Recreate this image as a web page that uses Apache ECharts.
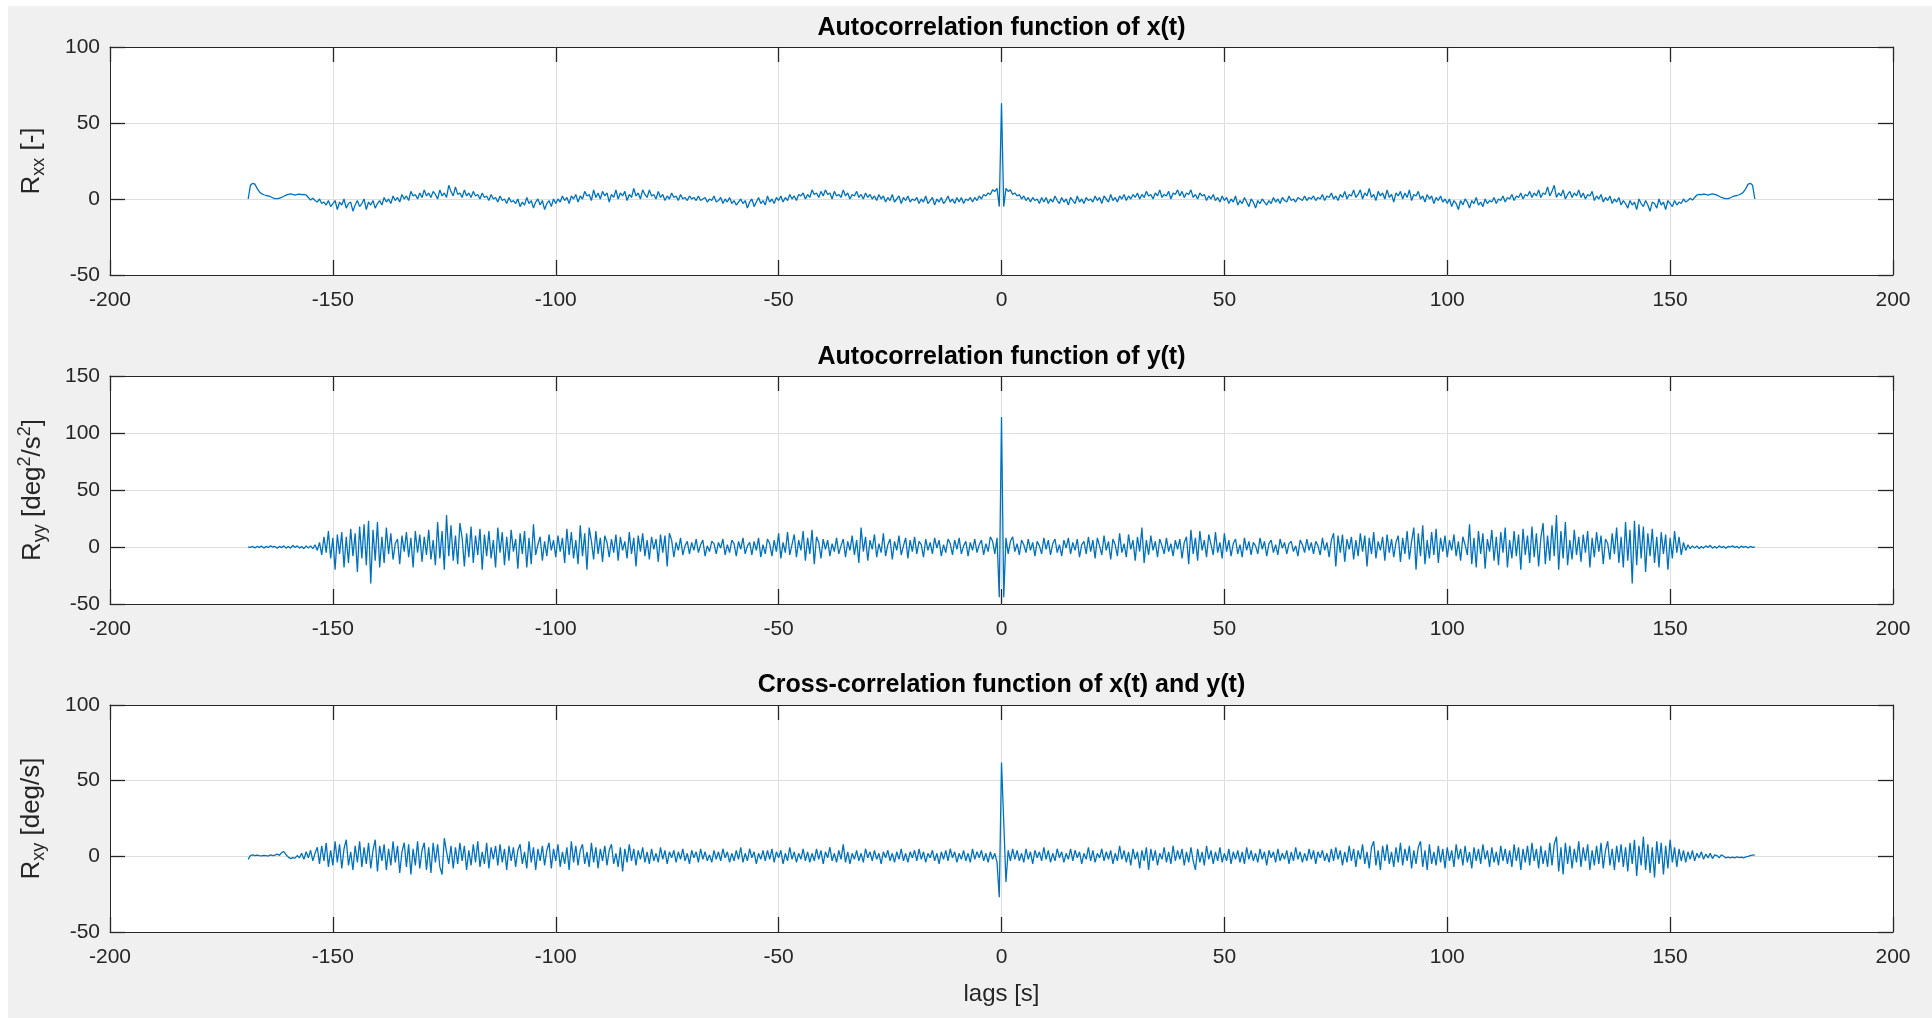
<!DOCTYPE html>
<html>
<head>
<meta charset="utf-8">
<script src="https://cdn.jsdelivr.net/npm/echarts@6/dist/echarts.min.js"></script>
<style>
html,body{margin:0;padding:0;background:#fff;overflow:hidden;}
#c{position:absolute;left:8px;top:6px;width:1924px;height:1012px;}
</style>
</head>
<body>
<div id="c"></div>
<script>
// ---------------- DATA ----------------
const lagStep = 0.5;           // sampling step of the lags [s]
const lagMax = 169;            // lags run from -169 s to +169 s
const xTicks = { min: -200, max: 200, interval: 50 };
const yTicksX = { min: -50, max: 100, interval: 50 };
const yTicksY = { min: -50, max: 150, interval: 50 };
const yTicksXY = { min: -50, max: 100, interval: 50 };

// Rxx for lags 0, 0.5, ..., 169 (autocorrelation is even: R(-t) = R(t))
const rxxPos = [
  63, -5, 7, 5, 6, 3, 4, 2, 3, 0, 2, -1, 1, -2, 1, -1, 0, -3, 1, -2,
  1, -3, 0, -2, 2, -1, -3, 1, -2, 0, -4, 1, -1, -3, 2, -2, 0, -3, 1, -1,
  0, -2, 2, -1, 1, -3, 2, 0, -2, 3, -1, 1, -2, 2, 0, 3, -1, 2, 0, 3,
  1, 4, 0, 3, 1, 5, 2, 3, 0, 4, 2, 6, 1, 3, 2, 5, 0, 4, 3, 6,
  2, 5, 1, 4, 3, 6, 1, 3, 0, 4, 2, 3, -1, 2, 0, 3, -1, 1, -2, 2,
  -1, 1, -3, 0, -2, 2, -4, -1, -3, 1, -2, -5, 0, -2, -6, -1, -3, 0, -2, -4,
  -1, -3, 1, -2, 0, -3, 1, -1, -2, 2, -1, 0, -2, 1, 0, -1, 2, -1, 1, 0,
  2, -1, 1, 0, 3, -1, 2, 1, 4, 0, 2, -1, 3, 1, 5, 0, 3, 2, 6, 1,
  3, 6, 0, 4, 2, 7, 1, 3, -1, 5, 2, 4, 0, 6, 1, 3, -2, 4, 2, 5,
  0, 4, 1, 6, -1, 3, 2, 5, 0, 2, -2, 3, 0, 2, -3, 1, -1, 2, -2, 0,
  -3, 0, -5, -1, -3, -7, -1, -4, 0, -2, -6, -1, -3, 1, -4, -2, -5, 0, -3, -1,
  -2, 1, -3, 0, -1, 2, -2, 1, 0, 3, -1, 2, 1, 4, 0, 3, 2, 5, 1, 4,
  2, 6, 1, 4, 3, 8, 2, 5, 9, 1, 4, 2, 6, 0, 3, 5, 1, 4, 2, 6,
  1, 4, 0, 3, 2, 5, -1, 2, 0, 3, -2, 1, -1, 2, -3, 0, -2, 1, -4, -1,
  -3, -6, -1, -4, -2, -7, 0, -3, -5, -1, -4, -8, -2, -3, -6, 0, -4, -2, -7, -1,
  -3, -5, -1, -4, -2, -3, 0, -2, -1, 0.5, -0.7, 1, 2.6, 3, 2.8, 3.2, 3, 2.6, 3, 3.3,
  3, 2.5, 1.8, 1, 0.5, 0.2, 0.3, 0.8, 1.5, 2, 2.3, 2.8, 3.5, 4.8, 7, 9.8, 10.3, 9, 0
];

// Ryy for lags 0, 0.5, ..., 169 (even function)
const ryyPos = [
  114, -44, 8, -6, 5, 9, -4, 3, -7, 6, 2, -5, 7, -3, 4, -8, 5, 1, -6, 8,
  -2, 6, -7, 3, 7, -5, 2, -8, 6, -1, 8, -6, 4, -3, 7, -9, 2, 5, -6, 9,
  -4, 6, -10, 8, 1, -7, 10, -3, 5, -11, 7, 2, -8, 12, -5, 3, -9, 11, -2, 6,
  -12, 9, -4, 17, -14, 6, -7, 10, -3, 5, -9, 7, 1, -6, 8, -4, 3, -8, 6, -2,
  7, -10, 4, 9, -15, 15, -6, 8, -12, 14, -3, 6, -9, 11, 2, -7, 13, -5, 4, -10,
  12, -4, 6, -8, 3, 7, -6, 2, -9, 8, -3, 5, -7, 4, 1, -6, 8, -2, 5, -8,
  3, 6, -5, 2, -7, 7, -1, 4, -6, 3, 5, -4, 1, -8, 6, 2, -5, 7, -3, 4,
  -6, 5, 1, -7, 8, -3, 4, -9, 6, 12, -17, 10, -5, 11, -13, 7, -2, 9, -11, 6,
  -8, 12, -4, 10, -17, 8, -6, 13, -10, 5, -3, 9, -12, 11, -5, 7, -9, 4, 10, -13,
  8, -6, 14, -11, 5, 17, -20, 12, -8, 19, -15, 6, -10, 13, -7, 16, -14, 8, -4, 10,
  -9, 6, -3, 11, -8, 5, -12, 9, 2, -7, 20, -15, 8, -18, 14, -6, 12, -19, 7, -4,
  15, -12, 9, -16, 13, -5, 17, -18, 6, -10, 14, -8, 11, -20, 16, -7, 10, -14, 18, -9,
  12, -17, 8, 21, -15, 10, -12, 19, -8, 28, -20, 14, -10, 22, -16, 6, -11, 15, -7, 9,
  -13, 11, -5, 14, -18, 8, -9, 13, -4, 10, -15, 7, 3, -11, 12, -6, 17, -14, 9, -18,
  22, -12, 15, -32, 23, -16, 20, -10, 18, -22, 12, -8, 16, -14, 9, -18, 13, -6, 11, -20,
  8, -10, 14, -5, 9, -7, 4, -3, 2, -1.5, 1, -1, 1, -1.5, 0.5, -1, 1, -0.5, 1.5, -1,
  0.5, -1, 1, -0.5, 0.5, -1, 0.5, 0, 1, -0.5, 0.5, -1, 0.8, -0.3, 0.5, -0.8, 0.5, -0.3, 0
];

// Rxy for lags -169, -168.5, ..., 169
const rxy = [
  -2, 0.5, 1, 0.5, 0.8, 0.5, 0.3, 0.6, 0.4, 0.2, 1, 0.5, 0.8, 1.5, 0.6, 2.5, 3.2, 1,
  -0.5, -1.5, -0.8, -1.2, 0.5, -1, 2, -2, 3, -1, 4, -3, 2, 6,
  -5, 7, -3, 9, -7, 4, -6, 10, -4, 8, -8, 5, 11, -6, 3, -9, 7, -4, 10, -7,
  6, -5, 9, -8, 4, 11, -10, 7, -3, 8, -9, 5, -6, 10, -4, 7, -11, 3, 9, -7,
  8, -12, 5, -6, 10, -8, 4, 9, -9, 6, -11, 9, -4, 8, -7, -12, 12, 3, -5, 7,
  -8, 6, -5, 9, -3, 7, -9, 4, -6, 8, -4, 10, -7, 3, -5, 9, -8, 6, -2, 7,
  -6, 8, -4, 5, -9, 7, -3, 6, -7, 4, 8, -5, 3, -8, 10, -4, 6, -9, 5, -3,
  7, -6, 4, 9, -8, 5, -3, 8, -7, 3, -5, 6, -9, 10, -4, 7, -6, 4, 8, -5,
  3, -7, 9, -4, 6, -8, 5, -3, 7, -6, 4, 8, -5, 2, -7, 6, -10, 5, -4, 8,
  -3, 5, -6, 4, -2, 6, -4, 3, -5, 5, -3, 2, -4, 6, -2, 4, -5, 3, -1, 4,
  -4, 3, -2, 5, -3, 2, -5, 4, -1, 3, -4, 5, -2, 3, -3, 1, -4, 4, -2, 3,
  -3, 5, -1, 3, -4, 2, -3, 4, -2, 6, -4, 2, -3, 5, -1, 3, -5, 2, -2, 4,
  -3, 4, -2, 5, -4, 3, -1, 4, -5, 2, -3, 6, -2, 3, -4, 2, -2, 5, -3, 3,
  -4, 2, -3, 5, -2, 4, -5, 3, -1, 6, -3, 2, -4, 4, -2, 8, -4, 3, -5, 2,
  -2, 4, -3, 2, -4, 5, -1, 3, -3, 4, -2, 2, -5, 3, -1, 4, -3, 2, -4, 3,
  -2, 5, -3, 2, -4, 3, -1, 4, -3, 5, -2, 3, -4, 2, -1, 4, -3, 2, -5, 3,
  -2, 4, -3, 5, -1, 3, -4, 2, -2, 4, -3, 2, -4, 5, -2, 3, -1, 4, -3, 2,
  -4, 3, -2, 2, -4, -27, 62,
  23, -17, 4, -3, 5, -2,
  4, -3, 2, -4, 5, -2, 3, -5, 4, -1, 3, -3, 6, -2, 4, -4, 2, -3, 5, -1,
  3, -4, 2, -2, 5, -3, 4, -1, 3, -5, 2, -2, 6, -3, 4, -4, 2, -1, 5, -3,
  3, -2, 4, -5, 2, -3, 7, -2, 4, -4, 3, -6, 5, -2, 3, -8, 4, -3, 6, -9,
  5, -3, 4, -6, 2, -2, 6, -4, 3, -5, 7, -3, 4, -2, 5, -6, 3, -4, 6, -3,
  -9, 5, -4, 3, -6, 7, -2, 4, -5, 3, -3, 6, -4, 2, -3, 5, -5, 3, -2, 4,
  -4, 3, -5, 6, -2, 4, -3, 2, -4, 5, -2, 3, -6, 4, -1, 3, -4, 5, -3, 2,
  -2, 4, -5, 3, -3, 6, -2, 3, -4, 2, -3, 5, -2, 4, -5, 3, -1, 4, -3, 2,
  -4, 5, -3, 6, -2, 4, -6, 3, -4, 7, -3, 5, -7, 4, -2, 8, -5, 3, -8, 6,
  10, -6, 4, -9, 7, -3, 8, -5, 3, -7, 6, -4, 9, -6, 5, -3, 7, -8, 4, -5,
  6, 10, -7, 4, -9, 8, -5, 3, -6, 7, -4, 5, -8, 6, -3, 4, -7, 8, -2, 5,
  -6, 7, -4, 3, -8, 6, -3, 5, -5, 8, -2, 4, -7, 6, -4, 3, -6, 7, -3, 5,
  -5, 4, -7, 8, -3, 6, -9, 5, -4, 7, -6, 9, -3, 5, -8, 7, -5, 4, -7, 9,
  -6, 8, 13, -10, 6, -12, 9, -5, 7, -8, 5, -4, 10, -7, 6, -3, 8, -9, 4, -6,
  7, -5, 9, -8, 4, 10, -6, 5, -9, 7, -4, 8, -7, 6, -10, 9, -5, 11, -13, 7,
  -6, 13, -9, 8, -11, 6, -14, 10, -5, 9, -12, 7, -8, 11, -4, 6, -7, 5, -3, 4,
  -4, 3, -2, 4, -3, 2, -1, 3, -2, 1.5, -1, 2, -1.5, 1, 0.5, -1, 1, 0, -1, -0.5,
  -1, -0.5, -1, -0.3, -0.8, -0.5, -1, -0.3, 0, 0.5, 0.8, 1
];

const titles = [
  'Autocorrelation function of x(t)',
  'Autocorrelation function of y(t)',
  'Cross-correlation function of x(t) and y(t)'
];
const yNames = [
  '{m|R}{s|xx}{m| [-]}',
  '{m|R}{s|yy}{m| [deg}{p|2}{m|/s}{p|2}{m|]}',
  '{m|R}{s|xy}{m| [deg/s]}'
];
const xName = 'lags [s]';

// ---------------- BUILD ----------------
function evenSeries(pos) {
  const out = [];
  for (let i = pos.length - 1; i >= 1; i--) out.push([-i * lagStep, pos[i]]);
  for (let i = 0; i < pos.length; i++) out.push([i * lagStep, pos[i]]);
  return out;
}
function fullSeries(vals) {
  return vals.map((v, i) => [-lagMax + i * lagStep, v]);
}
const seriesData = [evenSeries(rxxPos), evenSeries(ryyPos), fullSeries(rxy)];
const yTicks = [yTicksX, yTicksY, yTicksXY];

const FONT = '"Liberation Sans", Arial, Helvetica, sans-serif';
const TXT = '#262626';
const BOX = '#262626';
const GRIDC = '#dedede';
const LINEC = '#0072BD';

const gridPos = [
  { top: 41, height: 228 },
  { top: 370, height: 228 },
  { top: 699, height: 227 }
];
const titleY = [22.5, 351.5, 679.5];
const yNameGap = [62, 60, 62];

const grids = [], xAxes = [], yAxes = [], series = [], graphics = [];
for (let g = 0; g < 3; g++) {
  grids.push({
    left: 102, width: 1783, top: gridPos[g].top, height: gridPos[g].height,
    show: true, backgroundColor: '#ffffff', borderWidth: 0, containLabel: false
  });
  const axLine = { show: true, onZero: false, lineStyle: { color: BOX, width: 1 } };
  const tick = { show: true, inside: true, length: 15, lineStyle: { color: BOX, width: 1.3 } };
  xAxes.push({
    type: 'value', gridIndex: g, position: 'bottom',
    min: xTicks.min, max: xTicks.max, interval: xTicks.interval,
    axisLine: axLine, axisTick: tick,
    axisLabel: { show: true, color: TXT, fontSize: 21, fontFamily: FONT, margin: 15 },
    splitLine: { show: true, lineStyle: { color: GRIDC, width: 1 } },
    name: g === 2 ? xName : '', nameLocation: 'middle', nameGap: 50.5,
    nameTextStyle: { color: TXT, fontSize: 24, fontFamily: FONT }
  });
  xAxes.push({
    type: 'value', gridIndex: g, position: 'top',
    min: xTicks.min, max: xTicks.max, interval: xTicks.interval,
    axisLine: axLine, axisTick: tick, axisLabel: { show: false },
    splitLine: { show: false }
  });
  yAxes.push({
    type: 'value', gridIndex: g, position: 'left',
    min: yTicks[g].min, max: yTicks[g].max, interval: yTicks[g].interval,
    axisLine: axLine, axisTick: tick,
    axisLabel: { show: true, color: TXT, fontSize: 21, fontFamily: FONT, margin: 10 },
    splitLine: { show: true, lineStyle: { color: GRIDC, width: 1 } },
    name: yNames[g], nameLocation: 'middle', nameRotate: 90, nameGap: yNameGap[g],
    nameTextStyle: {
      color: TXT, fontSize: 26, fontFamily: FONT,
      rich: {
        m: { fontSize: 26, fontFamily: FONT, color: TXT },
        s: { fontSize: 18, fontFamily: FONT, color: TXT, padding: [14, 0, 0, 0] },
        p: { fontSize: 18, fontFamily: FONT, color: TXT, padding: [0, 0, 16, 0] }
      }
    }
  });
  yAxes.push({
    type: 'value', gridIndex: g, position: 'right',
    min: yTicks[g].min, max: yTicks[g].max, interval: yTicks[g].interval,
    axisLine: axLine, axisTick: tick, axisLabel: { show: false },
    splitLine: { show: false }
  });
  series.push({
    type: 'line', xAxisIndex: g * 2, yAxisIndex: g * 2,
    data: seriesData[g], showSymbol: false, symbol: 'none',
    sampling: null, clip: true, silent: true, z: 3,
    lineStyle: { color: LINEC, width: 1.3 }, itemStyle: { color: LINEC }
  });
  graphics.push({
    type: 'text', x: 993.5, y: titleY[g], z: 10,
    style: {
      text: titles[g], font: 'bold 25px ' + FONT, fill: '#000',
      align: 'center', verticalAlign: 'middle'
    }
  });
}

const chart = echarts.init(document.getElementById('c'), null, { renderer: 'canvas' });
chart.setOption({
  animation: false,
  backgroundColor: '#f0f0f0',
  textStyle: { fontFamily: FONT },
  grid: grids,
  xAxis: xAxes,
  yAxis: yAxes,
  series: series,
  graphic: graphics
});
</script>
</body>
</html>
